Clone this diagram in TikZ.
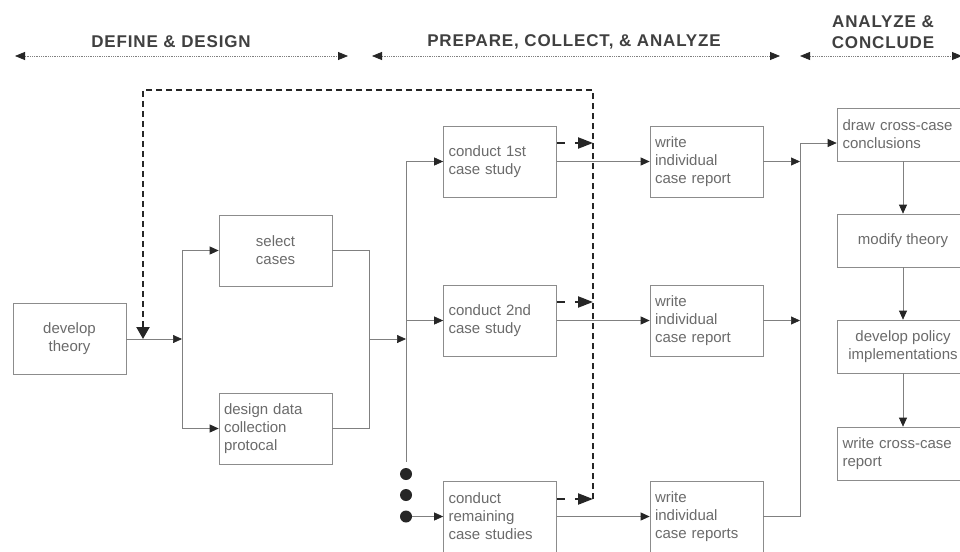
\documentclass[tikz,border=0pt]{standalone}
\usepackage{fontspec}
\setmainfont{Liberation Sans}
\newfontfamily\hdrfont[LetterSpace=5]{Liberation Sans}
\usetikzlibrary{arrows.meta}
\definecolor{linegray}{gray}{0.5}
\definecolor{boxline}{gray}{0.55}
\definecolor{boxtext}{gray}{0.42}
\definecolor{hdrtext}{gray}{0.25}
\definecolor{tipcol}{gray}{0.15}
\begin{document}
\begin{tikzpicture}[x=1pt,y=-1pt,
  box/.style={draw=boxline, line width=0.7pt, rectangle, minimum width=113pt, minimum height=71pt,
    inner sep=0pt, font=\fontsize{15}{18}\selectfont, text=boxtext},
  cbox/.style={box, align=center},
  lbox/.style={box, text width=103pt, align=left},
  rcbox/.style={box, minimum width=132pt, minimum height=53pt, align=center},
  rlbox/.style={box, minimum width=132pt, minimum height=53pt, text width=121pt, align=left},
  plain/.style={draw=linegray, line width=0.7pt},
  conn/.style={plain, -{Triangle[length=9pt,width=8pt,color=tipcol]}},
  fb/.style={draw=tipcol, line width=2.2pt, dash pattern=on 6pt off 4pt},
  fbarrow/.style={draw=tipcol, line width=2.2pt, dash pattern=on 8pt off 10pt,
    -{Triangle[length=15pt,width=11pt,color=tipcol]}},
  hdr/.style={draw=linegray, line width=0.8pt, densely dotted,
    {Triangle[length=10pt,width=8pt,color=tipcol]}-{Triangle[length=10pt,width=8pt,color=tipcol]}},
  hdrtxt/.style={font=\hdrfont\fontsize{17}{21}\selectfont\bfseries, text=hdrtext, align=center, inner sep=0pt},
  dot/.style={circle, fill=tipcol, minimum size=12pt, inner sep=0pt}
]
\useasboundingbox (0,0) rectangle (960,551);
\clip (0,0) rectangle (960,551);
\fill[white] (0,0) rectangle (960,551);

% headers
\node[hdrtxt] (h1) at (171,42) {DEFINE \& DESIGN};
\node[hdrtxt] (h2) at (574,42) {PREPARE, COLLECT, \& ANALYZE};
\node[hdrtxt] (h3) at (883,32) {ANALYZE \&\\CONCLUDE};
\coordinate (a1l) at (15,56); \coordinate (a1r) at (348,56);
\coordinate (a2l) at (372,56); \coordinate (a2r) at (780,56);
\coordinate (a3l) at (800,56); \coordinate (a3r) at (962,56);
\draw[hdr] (a1l) -- (a1r);
\draw[hdr] (a2l) -- (a2r);
\draw[hdr] (a3l) -- (a3r);

% boxes
\node[cbox] (theory) at (69.5,339) {develop\\theory};
\node[cbox] (select) at (275.5,250.5) {select\\cases};
\node[lbox] (design) at (275.5,428.5) {design data\\collection\\protocal};
\node[lbox] (c1) at (500,161.5) {conduct 1st\\case study};
\node[lbox] (c2) at (500,320.5) {conduct 2nd\\case study};
\node[lbox] (c3) at (500,516.5) {conduct\\remaining\\case studies};
\node[lbox] (w1) at (706.5,161.5) {write\\individual\\case report};
\node[lbox] (w2) at (706.5,320.5) {write\\individual\\case report};
\node[lbox] (w3) at (706.5,516.5) {write\\individual\\case reports};
\node[rlbox] (d1) at (903,134.5) {draw cross-case\\conclusions};
\node[rcbox] (d2) at (903,240.5) {modify theory};
\node[rcbox] (d3) at (903,346.5) {develop policy\\implementations};
\node[rlbox] (d4) at (903,453.5) {write cross-case\\report};

% define & design connectors
\coordinate (j1) at (182,339);
\draw[conn] (theory.east) -- (j1);
\draw[conn] (j1) |- (select.west);
\draw[conn] (j1) |- (design.west);
\coordinate (j2) at (369,339);
\draw[plain] (select.east) -| (j2);
\draw[plain] (design.east) -| (j2);
\coordinate (j3) at (406,339);
\draw[conn] (j2) -- (j3);
\coordinate (j3top) at (406,161.5);
\coordinate (j3bot) at (406,462);
\draw[plain] (j3top) -- (j3bot);
\draw[conn] (j3top) -- (c1.west);
\draw[conn] (j3 |- c2.west) -- (c2.west);
\node[dot] (dot1) at (406,474) {};
\node[dot] (dot2) at (406,495) {};
\node[dot] (dot3) at (406,516.5) {};
\draw[conn] (dot3) -- (c3.west);

% case study -> report
\draw[conn] (c1.east) -- (w1.west);
\draw[conn] (c2.east) -- (w2.west);
\draw[conn] (c3.east) -- (w3.west);

% reports -> conclusions
\coordinate (k1) at (800,161.5);
\coordinate (k2) at (800,320.5);
\coordinate (k3) at (800,516.5);
\coordinate (ktop) at (800,143);
\draw[conn] (w1.east) -- (k1);
\draw[conn] (w2.east) -- (k2);
\draw[plain] (w3.east) -- (k3) -- (ktop);
\draw[conn] (ktop) -- (d1.west |- ktop);
\draw[conn] (d1.south) -- (d2.north);
\draw[conn] (d2.south) -- (d3.north);
\draw[conn] (d3.south) -- (d4.north);

% dashed feedback
\coordinate (f1) at (593,143);
\coordinate (f2) at (593,302);
\coordinate (f3) at (593,499);
\coordinate (ftr) at (593,90);
\coordinate (ftl) at (143,90);
\coordinate (fend) at (143,339);
\draw[fbarrow] (c1.east |- f1) -- (f1);
\draw[fbarrow] (c2.east |- f2) -- (f2);
\draw[fbarrow] (c3.east |- f3) -- (f3);
\draw[fb, -{Triangle[length=12pt,width=13pt,color=tipcol]}] (f3) -- (ftr) -- (ftl) -- (fend);
\end{tikzpicture}
\end{document}
